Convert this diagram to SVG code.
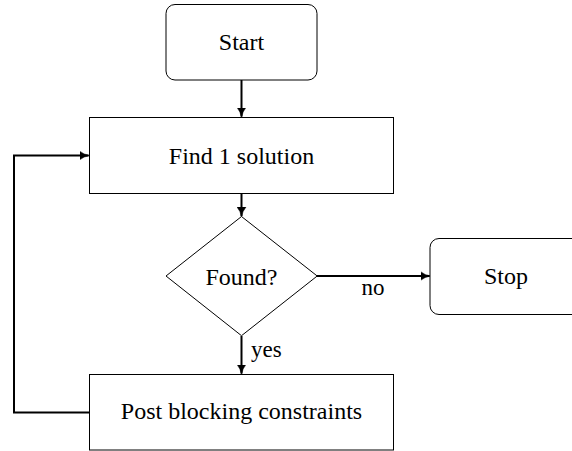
<svg xmlns="http://www.w3.org/2000/svg" width="572" height="451" viewBox="0 0 572 451">
<defs>
<style type="text/css">
.node{fill:#fff;stroke:#000;stroke-width:1}
text{font-family:'Liberation Serif','DejaVu Serif',serif;fill:#000}
.t{font-size:24px;text-anchor:middle}
.lbl{font-size:23px}
.edge{fill:none;stroke:#000;stroke-width:2}
</style>
<marker id="arr" viewBox="0 0 10 10" refX="9" refY="5" markerWidth="5" markerHeight="5" orient="auto" markerUnits="strokeWidth">
<path d="M0,0.5 Q4,4 10,5 Q4,6 0,9.5 L0,0.5Z" fill="#000" stroke="#000" stroke-width="0.5" stroke-linejoin="round"/>
</marker>
</defs>
<rect width="572" height="451" fill="#fff"/>
<g id="connectors">
<line class="edge" x1="241.5" y1="80" x2="241.5" y2="116.5" marker-end="url(#arr)"/>
<line class="edge" x1="241.5" y1="193.5" x2="241.5" y2="216" marker-end="url(#arr)"/>
<line class="edge" x1="317" y1="276" x2="429.5" y2="276" marker-end="url(#arr)"/>
<line class="edge" x1="241.5" y1="336" x2="241.5" y2="373.5" marker-end="url(#arr)"/>
<polyline class="edge" points="89,412.5 14,412.5 14,155.5 88.5,155.5" marker-end="url(#arr)"/>
<text class="lbl" x="373" y="295" text-anchor="middle" font-family="Liberation Serif">no</text>
<text class="lbl" x="251" y="357" font-family="Liberation Serif">yes</text>
</g>
<g id="start">
<rect class="node" x="166" y="4.5" width="151" height="75.5" rx="9"/>
<text class="t" x="241.5" y="50" font-family="Liberation Serif">Start</text>
</g>
<g id="find">
<rect class="node" x="89.5" y="117.5" width="304" height="76"/>
<text class="t" x="241.5" y="164" font-family="Liberation Serif">Find 1 solution</text>
</g>
<g id="found">
<polygon class="node" points="241.5,216.5 317.2,276 241.5,335.7 166,276"/>
<text class="t" x="241.5" y="284.5" font-family="Liberation Serif">Found?</text>
</g>
<g id="stop">
<rect class="node" x="430" y="238.5" width="151" height="76" rx="9"/>
<text class="t" x="506" y="284" font-family="Liberation Serif">Stop</text>
</g>
<g id="post">
<rect class="node" x="89.5" y="374.5" width="304" height="75.5"/>
<text class="t" x="241.5" y="418.5" font-family="Liberation Serif">Post blocking constraints</text>
</g>
</svg>
